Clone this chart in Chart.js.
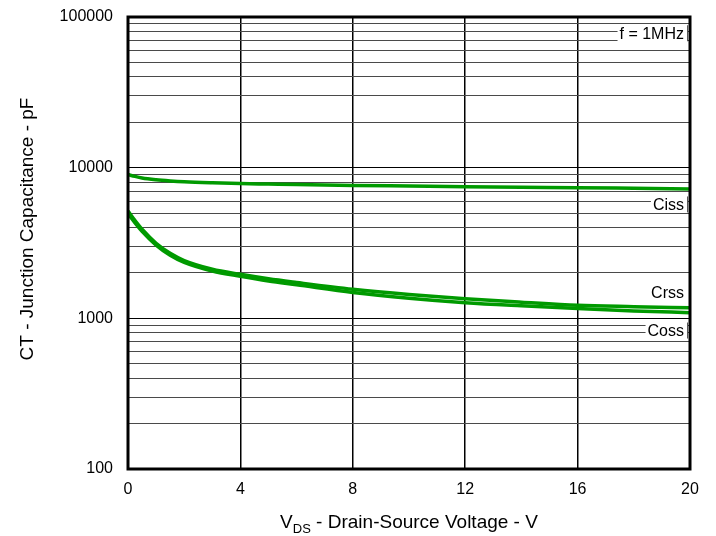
<!DOCTYPE html>
<html>
<head>
<meta charset="utf-8">
<script src="https://cdn.jsdelivr.net/npm/chart.js@4/dist/chart.umd.min.js"></script>
<style>
  html, body { margin: 0; padding: 0; background: #fff; }
  #wrap { width: 716px; height: 536px; position: relative; }
</style>
</head>
<body>
<div id="wrap"><canvas id="c" width="716" height="536"></canvas></div>
<script>
// Drain-source voltage sample points (V)
const vds = [0, 0.25, 0.5, 1, 1.5, 2, 3, 4, 5, 6, 8, 10, 12, 14, 16, 18, 20];

// Junction capacitances (pF) at each voltage
const ciss = [9000, 8750, 8550, 8320, 8170, 8060, 7930, 7840, 7780, 7720, 7620, 7550, 7480, 7420, 7370, 7300, 7230];
const crss = [5150, 4450, 3900, 3150, 2700, 2420, 2120, 1960, 1830, 1730, 1560, 1440, 1350, 1280, 1220, 1195, 1175];
const coss = [4950, 4300, 3780, 3060, 2620, 2350, 2060, 1900, 1770, 1670, 1485, 1360, 1270, 1210, 1160, 1120, 1090];

const seriesNames = ['Ciss', 'Crss', 'Coss'];
const xTickValues = [0, 4, 8, 12, 16, 20];
const yDecades = [100, 1000, 10000, 100000];
const noteText = 'f = 1MHz';

const FONT = '"Liberation Sans", Arial, sans-serif';
const GREEN = '#009a00';

function pts(ys) { return vds.map((v, i) => ({ x: v, y: ys[i] })); }

// every 1..9 multiple inside each decade, decades labelled
const yTicks = [];
for (let d = 0; d < yDecades.length - 1; d++) {
  for (let k = 1; k <= 9; k++) yTicks.push(yDecades[d] * k);
}
yTicks.push(yDecades[yDecades.length - 1]);

const annotations = {
  id: 'annotations',
  afterDraw(chart) {
    const ctx = chart.ctx;
    const a = chart.chartArea;
    const ys = chart.scales.y;

    ctx.save();
    // plot frame
    ctx.strokeStyle = '#000';
    ctx.lineWidth = 3;
    ctx.strokeRect(a.left, a.top, a.right - a.left, a.bottom - a.top);

    // curve labels and frequency note
    ctx.font = '16px ' + FONT;
    ctx.textBaseline = 'middle';
    ctx.textAlign = 'right';
    const boxed = [
      { text: noteText, y: ys.getPixelForValue(78000), box: true },
      { text: seriesNames[0], y: ys.getPixelForValue(5700), box: true },
      { text: seriesNames[1], y: ys.getPixelForValue(1480), box: false },
      { text: seriesNames[2], y: ys.getPixelForValue(830), box: true }
    ];
    const rx = a.right - 6;
    boxed.forEach(l => {
      const w = ctx.measureText(l.text).width;
      if (l.box) {
        ctx.fillStyle = '#fff';
        ctx.fillRect(rx - w - 2, l.y - 8, w + 5, 16);
        ctx.strokeStyle = '#555';
        ctx.lineWidth = 1;
        ctx.beginPath();
        ctx.moveTo(rx + 3.5, l.y - 8);
        ctx.lineTo(rx + 3.5, l.y + 8);
        ctx.stroke();
      }
      ctx.fillStyle = '#000';
      ctx.fillText(l.text, rx, l.y + 1);
    });

    // x axis title with subscript
    const cx = (a.left + a.right) / 2;
    const base = 528;
    ctx.textAlign = 'left';
    ctx.textBaseline = 'alphabetic';
    ctx.font = '19px ' + FONT;
    const t1 = 'V', t3 = ' - Drain-Source Voltage - V';
    const w1 = ctx.measureText(t1).width;
    const w3 = ctx.measureText(t3).width;
    ctx.font = '13px ' + FONT;
    const t2 = 'DS';
    const w2 = ctx.measureText(t2).width;
    let x0 = cx - (w1 + w2 + w3) / 2;
    ctx.fillStyle = '#000';
    ctx.font = '19px ' + FONT;
    ctx.fillText(t1, x0, base);
    ctx.font = '13px ' + FONT;
    ctx.fillText(t2, x0 + w1, base + 5);
    ctx.font = '19px ' + FONT;
    ctx.fillText(t3, x0 + w1 + w2, base);

    // y axis title
    ctx.translate(28, 229);
    ctx.rotate(-Math.PI / 2);
    ctx.textAlign = 'center';
    ctx.textBaseline = 'middle';
    ctx.fillText('CT - Junction Capacitance - pF', 0, 0);
    ctx.restore();
  }
};

new Chart(document.getElementById('c'), {
  type: 'line',
  data: {
    datasets: [
      { label: seriesNames[0], data: pts(ciss) },
      { label: seriesNames[1], data: pts(crss) },
      { label: seriesNames[2], data: pts(coss) }
    ].map(d => Object.assign(d, {
      borderColor: GREEN,
      borderWidth: 3.5,
      pointRadius: 0,
      fill: false,
      cubicInterpolationMode: 'monotone'
    }))
  },
  options: {
    responsive: false,
    animation: false,
    devicePixelRatio: 1,
    layout: { padding: { top: 17, right: 26, left: 0, bottom: 0 } },
    plugins: { legend: { display: false }, tooltip: { enabled: false } },
    scales: {
      x: {
        type: 'linear',
        min: 0, max: 20,
        afterBuildTicks(s) { s.ticks = xTickValues.map(v => ({ value: v })); },
        afterFit(s) { s.height = 67; s.paddingLeft = 0; s.paddingRight = 0; },
        grid: { color: '#000', lineWidth: 1.5, drawTicks: false },
        border: { display: false },
        ticks: {
          padding: 11,
          color: '#000',
          font: { family: FONT, size: 16 },
          maxRotation: 0,
          autoSkip: false
        }
      },
      y: {
        type: 'logarithmic',
        min: 100, max: 100000,
        afterBuildTicks(s) { s.ticks = yTicks.map(v => ({ value: v })); },
        afterFit(s) { s.width = 128; s.paddingTop = 0; s.paddingBottom = 0; },
        grid: {
          drawTicks: false,
          color: c => yDecades.includes(c.tick.value) ? '#000' : '#4a4a4a',
          lineWidth: 1
        },
        border: { display: false },
        ticks: {
          padding: 15,
          color: '#000',
          font: { family: FONT, size: 16 },
          autoSkip: false,
          callback: v => yDecades.includes(v) ? String(v) : ''
        }
      }
    }
  },
  plugins: [annotations]
});
</script>
</body>
</html>
